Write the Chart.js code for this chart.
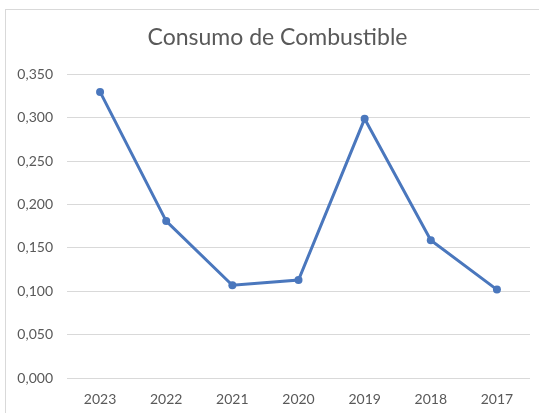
<!DOCTYPE html>
<html lang="es">
<head>
    <meta charset="utf-8">
    <script src="https://cdn.jsdelivr.net/npm/chart.js"></script>
    <style>
        html, body { margin: 0; padding: 0; background: #fff; }
        .wrap { position: relative; width: 539px; height: 413px; overflow: hidden; }
        .frame {
            position: absolute; left: 5px; top: 9px; width: 560px; height: 430px;
            border: 1px solid #d9d9d9; box-sizing: border-box;
        }
        canvas { position: absolute; left: 0; top: 0; }
    </style>
</head>
<body>
    <div class="wrap">
        <div class="frame"></div>
        <canvas id="fuelChart" width="539" height="413"></canvas>
    </div>

    <script>
        const years = ['2023', '2022', '2021', '2020', '2019', '2018', '2017'];
        const consumo = [0.330, 0.181, 0.107, 0.113, 0.299, 0.159, 0.102];
        const yMin = 0, yMax = 0.35, yStep = 0.05;

        const lineBlue = '#4a77bd';
        const textGray = '#595959';

        // the original title sits a bit right of the canvas centre
        const titleShift = {
            id: 'titleShift',
            afterLayout(chart) {
                if (chart.titleBlock) chart.titleBlock.left += 25;
            }
        };

        new Chart(document.getElementById('fuelChart'), {
            type: 'line',
            data: {
                labels: years,
                datasets: [{
                    label: 'Consumo de Combustible',
                    data: consumo,
                    borderColor: lineBlue,
                    backgroundColor: lineBlue,
                    borderWidth: 3,
                    pointRadius: 4,
                    pointBackgroundColor: lineBlue,
                    pointBorderWidth: 0,
                    tension: 0
                }]
            },
            options: {
                responsive: false,
                animation: false,
                layout: { padding: { left: 0, right: 9, top: 0, bottom: 5 } },
                plugins: {
                    legend: { display: false },
                    tooltip: { enabled: false },
                    title: {
                        display: true,
                        text: 'Consumo de Combustible',
                        color: textGray,
                        font: { family: 'Lato', size: 23, weight: 'normal' },
                        padding: { top: 24, bottom: 23 }
                    }
                },
                scales: {
                    x: {
                        offset: true,
                        grid: { display: false, drawTicks: false },
                        border: { display: false },
                        ticks: { color: textGray, padding: 13, font: { family: 'Lato', size: 14 } },
                        afterFit: s => { s.height = 30; }
                    },
                    y: {
                        min: yMin,
                        max: yMax,
                        grid: { color: '#d9d9d9', drawTicks: false, lineWidth: 1 },
                        border: { display: false },
                        ticks: {
                            stepSize: yStep,
                            color: textGray,
                            padding: 14,
                            font: { family: 'Lato', size: 14 },
                            callback: v => v.toFixed(3).replace('.', ',')
                        },
                        afterFit: s => { s.width = 67; }
                    }
                }
            },
            plugins: [titleShift]
        });
    </script>
</body>
</html>
